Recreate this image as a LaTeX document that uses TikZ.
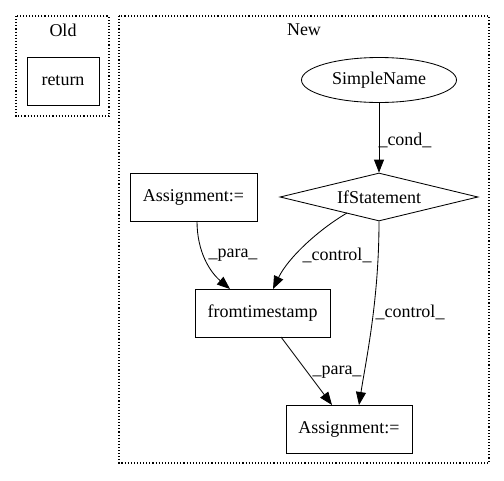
\documentclass[tikz,border=0pt]{standalone}
\usepackage{fontspec}
\setmainfont{Liberation Serif}
\usetikzlibrary{shapes.geometric,arrows.meta}
\begin{document}
\begin{tikzpicture}[x=1pt,y=-1pt,
  every node/.style={font=\fontsize{18}{20}\selectfont, inner sep=0pt},
  box/.style={draw, line width=0.85pt, rectangle, minimum height=48pt},
  cluster/.style={draw, line width=1.1pt, dotted},
  edge/.style={draw, line width=0.85pt, -{Triangle[length=13pt,width=10pt]}},
  lab/.style={font=\fontsize{18}{20}\selectfont}
]
\useasboundingbox (0,0) rectangle (504,480);
% clusters
\draw[cluster] (16,16) rectangle (109,116);
\draw[cluster] (119,16) rectangle (489,463);
\node (oldlab) at (63,30) {Old};
\node (newlab) at (304,30) {New};
% nodes
\node[box, minimum width=72pt] (ret) at (63,81) {return};
\node[draw, line width=0.85pt, ellipse, minimum width=155pt, minimum height=45pt] (sn) at (379,80) {SimpleName};
\node[draw, line width=0.85pt, diamond, aspect=4.125, minimum width=198pt, minimum height=48pt] (ifs) at (379,197) {IfStatement};
\node[box, minimum width=127pt] (a1) at (193.5,197) {Assignment:=};
\node[box, minimum width=135pt] (ft) at (262.5,313) {fromtimestamp};
\node[box, minimum width=126pt] (a2) at (349,429) {Assignment:=};
% edges
\draw[edge] (sn.south) -- (ifs.north);
\node[lab] (lcond) at (405,140) {\_cond\_};
\coordinate (a1s) at (197,221);
\coordinate (ftin1) at (230,289);
\draw[edge] (a1s) .. controls (197,252) and (210,272) .. (ftin1);
\node[lab] (lpara1) at (233,255) {\_para\_};
\coordinate (ifsl) at (347,213);
\coordinate (ftin2) at (273,289);
\draw[edge] (ifsl) .. controls (318,230) and (288,258) .. (ftin2);
\node[lab] (lctrl1) at (337,255) {\_control\_};
\coordinate (a2in2) at (359,405);
\draw[edge] (ifs.south) .. controls (379,300) and (366,360) .. (a2in2);
\node[lab] (lctrl2) at (410,312) {\_control\_};
\coordinate (fts) at (281,337);
\coordinate (a2in1) at (332,405);
\draw[edge] (fts) -- (a2in1);
\node[lab] (lpara2) at (337,372) {\_para\_};
\end{tikzpicture}
\end{document}
